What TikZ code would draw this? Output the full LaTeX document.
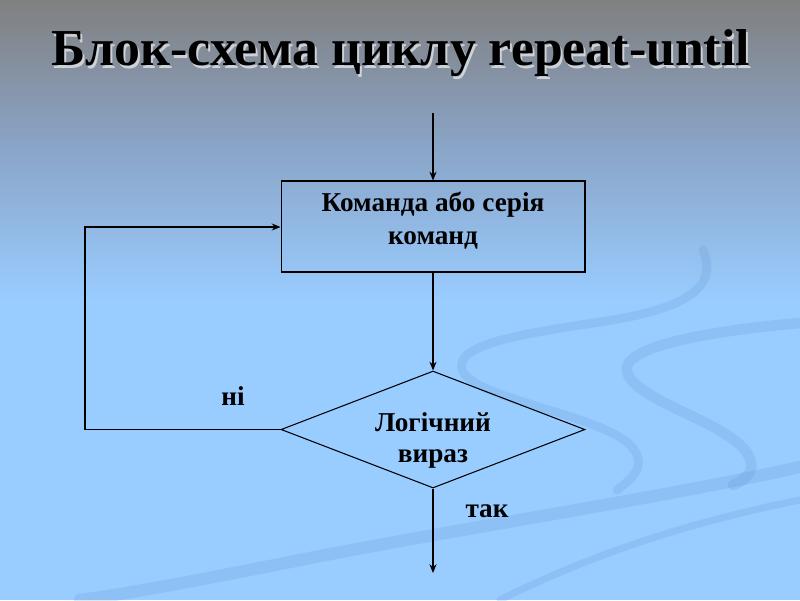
\documentclass[tikz,border=0pt]{standalone}
\usepackage{fontspec}
\setmainfont{Liberation Serif}
\newfontfamily\tnr{Liberation Serif}
\usetikzlibrary{arrows.meta,shapes.geometric}
\definecolor{topgray}{RGB}{128,128,128}
\definecolor{midblue}{RGB}{138,165,200}
\definecolor{sky}{RGB}{153,204,255}
\definecolor{bandc}{RGB}{100,150,210}
\begin{document}
\begin{tikzpicture}[x=0.02cm,y=-0.02cm,
  conn/.style={draw=black, line width=0.6pt},
  arr/.style={conn,-{Stealth[length=5pt,width=4pt]}},
  band/.style={draw=bandc, line cap=round, opacity=0.22},
  boxtxt/.style={font=\tnr\fontsize{15.5}{19}\selectfont\bfseries, align=center, inner sep=0pt},
  lbl/.style={font=\tnr\fontsize{15.5}{19}\selectfont\bfseries, inner sep=0pt, anchor=base}]
\useasboundingbox (0,0) rectangle (800,600);
% background
\fill[top color=topgray, bottom color=sky, middle color=midblue] (0,0) rectangle (800,300);
\fill[sky] (0,299) rectangle (800,600);
% decorative swirls
\draw[band, line width=5pt] (703,250) .. controls (720,290) and (680,310) .. (600,322) .. controls (520,334) and (450,345) .. (463,372) .. controls (480,400) and (600,415) .. (630,445) .. controls (650,465) and (630,480) .. (617,490);
\draw[band, line width=6pt] (800,323) .. controls (720,330) and (620,345) .. (627,372) .. controls (635,400) and (720,420) .. (745,450) .. controls (760,470) and (745,480) .. (733,485);
\draw[band, line width=7pt] (800,467) .. controls (650,500) and (450,530) .. (300,560) .. controls (200,580) and (120,595) .. (80,600);
\draw[band, line width=4pt] (800,500) .. controls (700,520) and (600,550) .. (500,600);
% title
\node[font=\tnr\fontsize{29.5}{34}\selectfont\bfseries, text=white, opacity=0.6, anchor=base] (titleshadow) at (403,68) {Блок-схема циклу repeat-until};
\node[font=\tnr\fontsize{29.5}{34}\selectfont\bfseries, anchor=base] (title) at (401,65) {Блок-схема циклу repeat-until};
% flowchart
\node[draw=black, line width=0.6pt, minimum width=6.08cm, minimum height=1.82cm, inner sep=0pt] (box) at (433,226.5) {};
\node[boxtxt, anchor=base] (boxt1) at (433,211) {Команда або серія};
\node[boxtxt, anchor=base] (boxt2) at (433,244) {команд};
\node[draw=black, line width=0.6pt, shape=diamond, aspect=2.6, minimum width=6.08cm, minimum height=2.34cm, inner sep=0pt] (dec) at (433,429.5) {};
\node[boxtxt, anchor=base] (dect1) at (433,431) {Логічний};
\node[boxtxt, anchor=base] (dect2) at (433,462) {вираз};
\coordinate (start) at (433,113);
\coordinate (endp) at (433,573);
\coordinate (loopb) at (85,429.5);
\coordinate (loopt) at (85,227);
\draw[arr] (start) -- (box.north);
\draw[arr] (box.south) -- (dec.north);
\draw[arr] (dec.south) -- (endp);
\draw[arr] (dec.west) -- (loopb) -- (loopt) -- (box.west |- loopt);
\node[lbl] (no) at (233,405) {ні};
\node[lbl] (yes) at (487,517) {так};
\end{tikzpicture}
\end{document}
